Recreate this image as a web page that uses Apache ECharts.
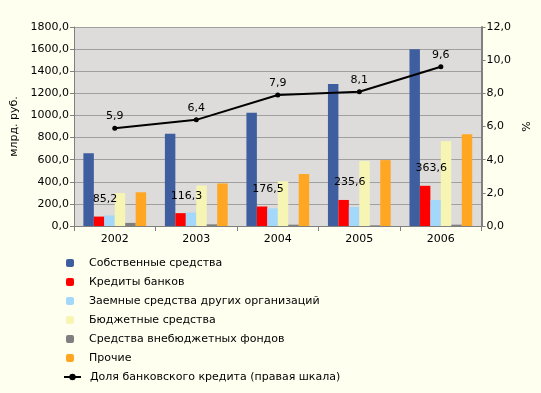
<!DOCTYPE html>
<html><head><meta charset="utf-8">
<script src="https://cdn.jsdelivr.net/npm/echarts@6/dist/echarts.min.js"></script>
<style>html,body{margin:0;padding:0;background:#FFFFF0;}#c{width:541px;height:393px;}</style>
</head><body><div id="c"></div>
<script>
const years = ['2002','2003','2004','2005','2006'];
const ownFunds = [658, 834, 1025, 1285, 1598];
const bankCredits = [85.2, 116.3, 176.5, 235.6, 363.6];
const otherOrgLoans = [95, 122, 160, 172, 235];
const budgetFunds = [298, 366, 405, 588, 768];
const extraBudgetFunds = [28, 15, 12, 6, 12];
const otherSources = [305, 385, 470, 596, 829];
const bankCreditShare = [5.9, 6.4, 7.9, 8.1, 9.6];

const names = ['Собственные средства','Кредиты банков','Заемные средства других организаций','Бюджетные средства','Средства внебюджетных фондов','Прочие'];
const lineName = 'Доля банковского кредита (правая шкала)';
const colors = ['#3E5E9F','#FF0000','#A3D8FA','#F7F5B3','#7F7F7F','#FFA722'];
const fmt = v => Number(v).toFixed(1).replace('.', ',');
const FONT = 'DejaVu Sans';

const barData = [ownFunds, bankCredits, otherOrgLoans, budgetFunds, extraBudgetFunds, otherSources];
const series = barData.map((d, i) => ({
  name: names[i], type: 'bar', data: d, yAxisIndex: 0,
  barGap: '0%', barCategoryGap: '23%',
  itemStyle: {color: colors[i]},
  label: i === 1 ? {show: true, position: 'top', distance: 12, offset: [6, 0],
    formatter: p => fmt(p.value), color: '#000', fontFamily: FONT, fontSize: 11} : {show: false}
}));
series.push({
  name: lineName, type: 'line', data: bankCreditShare, yAxisIndex: 1,
  symbol: 'circle', symbolSize: 5,
  lineStyle: {color: '#000', width: 2}, itemStyle: {color: '#000'},
  label: {show: true, position: 'top', distance: 4, formatter: p => fmt(p.value),
    color: '#000', fontFamily: FONT, fontSize: 11},
  z: 5
});

const chart = echarts.init(document.getElementById('c'), null, {renderer: 'canvas'});
chart.setOption({
  backgroundColor: '#FFFFF0',
  animation: false,
  textStyle: {fontFamily: FONT},
  grid: {left: 74, right: 54, top: 27, bottom: 167, show: true, backgroundColor: '#DDDCDA', borderWidth: 0},
  legend: [{
    data: names, orient: 'vertical', left: 66, top: 256, padding: 0,
    itemWidth: 8, itemHeight: 8, itemGap: 5,
    textStyle: {fontFamily: FONT, fontSize: 11, color: '#000', lineHeight: 14, padding: [0,0,0,10]}
  }, {
    data: [lineName], orient: 'vertical', left: 63, top: 370, padding: 0,
    itemWidth: 17, itemHeight: 8,
    textStyle: {fontFamily: FONT, fontSize: 11, color: '#000', lineHeight: 14, padding: [0,0,0,4]}
  }],
  xAxis: {
    type: 'category', data: years,
    axisLine: {lineStyle: {color: '#808080'}},
    axisTick: {show: true, length: 5, lineStyle: {color: '#808080'}},
    axisLabel: {color: '#000', fontFamily: FONT, fontSize: 11, margin: 8}
  },
  yAxis: [{
    type: 'value', min: 0, max: 1800, interval: 200,
    name: 'млрд. руб.', nameLocation: 'middle', nameGap: 52, nameRotate: 90,
    nameTextStyle: {color: '#000', fontFamily: FONT, fontSize: 11},
    axisLine: {show: true, lineStyle: {color: '#808080'}},
    axisTick: {show: true, length: 4, lineStyle: {color: '#808080'}},
    axisLabel: {color: '#000', fontFamily: FONT, fontSize: 11, margin: 5, formatter: v => fmt(v)},
    splitLine: {show: true, lineStyle: {color: '#A0A0A0', width: 1}}
  }, {
    type: 'value', min: 0, max: 12, interval: 2, position: 'right',
    name: '%', nameLocation: 'middle', nameGap: 34, nameRotate: 90,
    nameTextStyle: {color: '#000', fontFamily: FONT, fontSize: 11},
    axisLine: {show: true, lineStyle: {color: '#808080', width: 2}},
    axisTick: {show: true, length: 4, lineStyle: {color: '#808080'}},
    axisLabel: {color: '#000', fontFamily: FONT, fontSize: 11, margin: 5, formatter: v => fmt(v)},
    splitLine: {show: false}
  }],
  series: series
});
</script></body></html>
